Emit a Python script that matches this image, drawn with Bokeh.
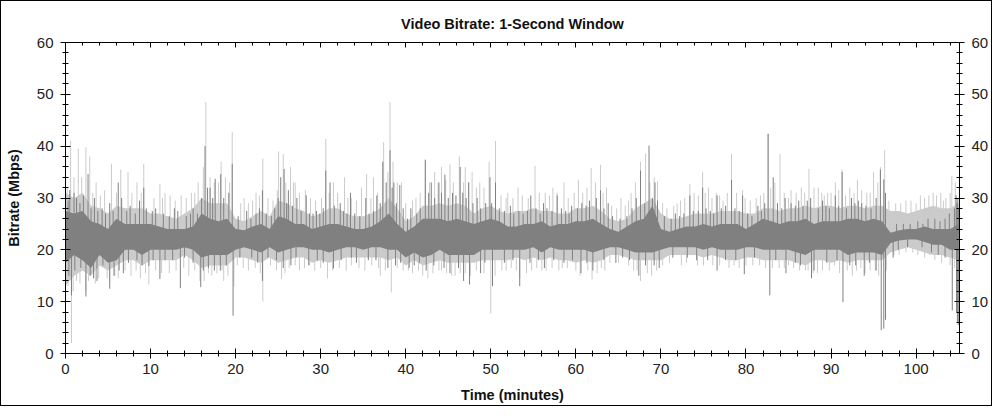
import numpy as np
from bokeh.plotting import figure
from bokeh.models import LinearAxis, SingleIntervalTicker, Range1d, CustomJSTickFormatter
from bokeh.embed import file_html
from bokeh.resources import INLINE

# ---- data (Mbps), one value per minute: dense core of each trace ----
minutes = list(range(0, 106))

dark_lo = [17.5, 19, 18, 16.5, 19, 17.5, 18, 20, 20, 19, 20, 20, 20, 20, 20.5, 20, 18.5, 19, 19, 19,
           20, 20.5, 20, 19.5, 20.5, 19.5, 20, 20.5, 20.5, 20, 20, 19.5, 20, 20.5, 20.5, 20, 20.5, 20.5, 20, 20,
           18.5, 19.5, 18.5, 19, 20, 19, 19, 19, 19, 20, 20, 20, 20, 20, 20, 20.5, 19.5, 20.5, 20, 20,
           20, 20, 19.5, 20, 20.5, 20.5, 20, 19.5, 19.5, 19.5, 20, 20.5, 20.5, 20.5, 20.5, 20, 20.5, 20, 20, 20,
           20.5, 20.5, 20, 20, 20, 20, 19.5, 19, 20, 20, 20, 20, 19, 19.5, 19.5, 19.5, 19, 21.3, 21.8, 22,
           22, 21.5, 21, 21, 20, 20]
dark_hi = [27.5, 27, 27.5, 25.5, 25, 24, 26, 25, 25, 25, 25, 24.5, 24, 24, 24, 24.5, 27, 26, 25.5, 26,
           24, 23.8, 24.5, 25, 24, 26.5, 26, 25, 25, 24, 24.5, 25, 25, 24.5, 24, 24, 24.5, 25.5, 27, 25,
           23.5, 24.5, 26, 26, 26, 25.5, 26, 25.5, 25, 25.5, 26, 25.5, 24.5, 24.5, 25, 25, 25.5, 24.5, 25, 25,
           25.5, 25.5, 26, 25, 24, 23.5, 24.5, 25.5, 26, 28.5, 24, 23.5, 24, 24.5, 24.5, 25, 24.5, 25, 25, 25,
           24, 25, 26, 25.5, 25, 25.5, 25.5, 26, 25, 25.5, 25.5, 25.5, 26, 26, 25.5, 26, 25.5, 23.3, 23.8, 24,
           24, 24.5, 24, 24, 24, 25]
light_lo = [13, 15, 16, 15, 17, 16, 17, 18, 18, 17, 18, 18, 18, 18, 19, 18, 16.5, 17, 17, 17,
            18.5, 18.5, 18, 17.5, 18.5, 17.5, 18, 18.5, 18.5, 17.5, 18, 17.5, 18, 18.5, 18.5, 18.5, 18.5, 18.5, 18, 18.5,
            17, 18, 17, 17.5, 18, 17.5, 17.5, 17.5, 17.5, 18, 18, 18, 18, 18.5, 18, 18.5, 18, 18.5, 18, 18,
            17.5, 18, 17.5, 18, 19, 19, 18.5, 18, 18, 18, 18, 19, 19, 19, 19, 18.5, 19, 18.5, 18, 18,
            18.5, 18.5, 18, 18, 18, 18, 17.5, 17, 18, 18, 17.5, 18, 17.5, 18, 18, 18, 18, 19.5, 20, 20.5,
            20, 19.5, 19, 19, 18.5, 18]
light_hi = [31, 30, 31, 28.5, 28, 27, 28.5, 28, 28, 28, 27, 27, 26.5, 26, 27, 28, 30, 29, 29, 29,
            26, 25.5, 26.5, 27.5, 26.5, 29.5, 29, 28, 27.5, 26.5, 27, 28, 28, 27, 26.5, 26.5, 27, 28, 30, 28,
            25.5, 26.5, 28.5, 28.5, 29, 28.5, 29, 28.5, 27, 28, 28.5, 27.5, 27, 27.5, 27.5, 28, 27.5, 27.5, 27, 27,
            28, 28, 28.5, 27.5, 26, 25.5, 26, 28, 29, 30, 27, 26, 26, 26.5, 27, 27, 27, 27.5, 27.5, 27.5,
            27, 27, 28, 28, 27.5, 28, 28, 28.5, 28, 28.5, 28.5, 28, 28.5, 28.5, 28, 28.5, 28.5, 27.5, 27.5, 27,
            27.5, 28, 28.5, 28, 28, 29]

# ---- individual one-second peaks / dips (minute, Mbps) ----
light_spike_t = [0.6, 1.5, 2.4, 2.85, 3.6, 5.4, 6.5, 7.35, 8.4, 9.2, 11.1, 11.7, 12.3, 13.6, 14.8, 16.2, 16.5,
                 17.5, 18.3, 19.6, 21.0, 22.4, 23.2, 25.05, 25.6, 26.45, 27.0, 28.2, 30.6, 31.5, 32.8, 33.6,
                 34.8, 35.4, 36.2, 37.4, 38.15, 38.5, 39.5, 41.2, 42.3, 43.4, 44.2, 45.2, 46.3, 47.0, 47.8,
                 48.7, 49.8, 50.55, 52.0, 53.2, 55.2, 56.4, 57.3, 58.6, 60.3, 61.8, 62.9, 63.6, 65.3, 66.5,
                 67.6, 68.2, 69.6, 71.5, 72.8, 73.4, 74.9, 75.6, 76.5, 77.3, 78.3, 79.6, 81.2, 82.6, 84.0,
                 85.3, 86.5, 87.4, 88.5, 89.6, 90.5, 91.3, 92.2, 93.1, 94.2, 95.0, 95.8, 96.3, 98.2, 100.5,
                 102.4, 103.5, 104.2,
                 0.7, 1.3, 2.4, 3.5, 4.9, 6.2, 8.8, 9.8, 12.2, 14.5, 15.8, 17.2, 18.6, 19.8, 21.5, 23.2,
                 25.4, 27.5, 29.3, 30.8, 33.0, 35.2, 37.0, 38.3, 40.3, 42.6, 44.2, 45.8, 47.0, 50.0, 51.3,
                 53.4, 54.8, 56.5, 58.4, 60.5, 61.9, 63.4, 66.8, 67.6, 69.5, 72.4, 76.1, 79.2, 81.6, 83.9,
                 85.6, 87.3, 88.4, 90.4, 92.5, 94.6, 97.4, 99.6, 101.6, 103.6]
light_spike_v = [41, 39.5, 39.8, 38, 33, 36.6, 35.5, 35, 33, 36.6, 32.7, 31, 30.5, 30.5, 31, 36, 48.5,
                 33, 37, 42.7, 30, 31, 37.6, 39, 38.5, 36, 33, 31.5, 41.4, 33, 34, 30,
                 32, 34.6, 34, 40.8, 48.5, 37, 33, 30, 37.5, 35, 36, 36.5, 38, 36, 35,
                 33, 37, 41, 31, 32, 36.2, 31, 32, 33, 33.5, 35.8, 36.4, 32, 30, 31,
                 37, 38.6, 33.2, 28.5, 30, 32.7, 35, 32, 31, 29.5, 38.5, 31.5, 30, 42.4, 38.5,
                 31.5, 32, 35.6, 32, 31, 33, 35.5, 32, 33.5, 31, 35, 36, 39.2, 29, 30.5,
                 30.5, 30, 34.3,
                 2, 14, 12, 13.5, 14.5, 14.5, 14.5, 13.3, 15.5, 15, 14, 15, 14, 13, 16, 10,
                 14.4, 16, 16, 14.5, 16, 16, 15, 11.8, 16, 14.5, 16, 15, 15.5, 7.7, 16,
                 14.5, 16, 16, 16.5, 15, 14.3, 16, 16, 14, 16, 17, 17, 16.5, 17, 16.5,
                 16.5, 16, 15.5, 17, 15, 16, 19, 19.5, 19, 18.5]

light_fuzz_t = [0.2, 1.0, 1.9, 3.2, 4.1, 4.6, 6.0, 7.8, 8.9, 10.4, 11.4, 12.9, 14.2, 15.2, 15.6, 17.0, 18.0,
                18.8, 19.3, 20.6, 21.5, 22.0, 22.8, 23.8, 24.4, 24.9, 25.9, 26.8, 27.5, 28.8, 29.4, 30.1,
                31.0, 32.0, 33.2, 34.2, 35.9, 36.7, 37.9, 39.0, 40.0, 40.8, 41.7, 42.8, 43.8, 44.7, 45.6,
                46.8, 47.4, 48.3, 49.2, 51.2, 51.8, 52.6, 53.7, 54.4, 55.7, 56.9, 57.8, 59.1, 59.8, 60.8,
                61.3, 62.3, 63.2, 64.2, 64.8, 65.8, 66.2, 67.0, 68.7, 69.2, 70.2, 70.7, 71.9, 72.3, 73.9,
                74.4, 75.2, 76.0, 76.9, 77.8, 78.9, 79.9, 80.5, 81.7, 82.1, 82.9, 83.4, 84.5, 85.0, 85.9,
                86.9, 88.0, 88.9, 89.2, 90.0, 90.9, 91.7, 92.7, 93.6, 94.6, 95.5, 96.8, 97.6, 98.8, 99.4,
                100.0, 101.0, 101.5, 102.0, 102.9, 103.2, 104.0, 104.6,
                0.3, 0.9, 1.7, 2.7, 3.9, 5.2, 5.8, 7.0, 7.7, 8.3, 9.4, 10.6, 11.3, 13.0, 13.9, 15.2, 16.3,
                16.8, 17.8, 18.4, 19.1, 20.2, 20.9, 22.3, 22.9, 24.1, 24.8, 25.8, 26.3, 27.0, 28.1, 28.7,
                30.0, 31.4, 32.2, 33.6, 34.5, 36.0, 36.8, 37.6, 39.0, 39.7, 40.8, 41.5, 42.0, 43.2, 43.9,
                44.8, 45.4, 46.4, 47.6, 48.3, 49.2, 50.5, 51.8, 52.4, 53.0, 54.2, 55.4, 56.0, 57.2, 58.0,
                59.0, 60.0, 61.4, 62.5, 63.0, 64.0, 65.0, 66.2, 67.2, 68.4, 68.9, 70.2, 71.0, 73.0, 74.3,
                75.0, 76.9, 78.0, 78.6, 80.0, 80.8, 82.3, 83.1, 84.5, 85.0, 86.3, 87.0, 87.9, 89.0, 89.8,
                91.0, 91.9, 93.0, 93.5, 94.0, 95.2, 95.6, 96.5, 98.0, 98.8, 100.2, 101.0, 102.2, 103.0,
                104.0, 104.5]
light_fuzz_v = [32, 34, 34, 31, 30.5, 31.5, 31, 31, 31, 30, 30, 29.5, 30, 31, 33, 34, 33,
                34, 33, 29, 29, 29.5, 30.5, 30, 29.5, 31.5, 33, 33, 31, 30, 29.5, 30,
                31, 31, 30, 29.5, 30, 31, 35, 33, 29, 29.5, 31, 33, 33, 33.5, 33,
                33, 33, 32, 32, 30.5, 30, 30, 30.5, 30, 31, 30.5, 31, 30, 31, 31,
                32, 33, 31, 28.5, 28, 28.5, 29.5, 33, 33, 34, 29, 28, 29, 29.5, 31,
                30.5, 31, 30, 30.5, 31, 31, 30, 29.5, 30.5, 31, 32, 33, 31, 30, 31,
                31, 32, 31, 30.5, 31, 31.5, 30.5, 31, 31.5, 31, 33, 29.5, 29, 29.5, 29.5,
                29, 30, 30.5, 31, 31, 29.5, 31, 33,
                13, 12, 13.5, 14, 14.5, 14, 15, 16, 15, 16, 15.5, 16, 15.5, 16, 16.5, 16, 14,
                15.5, 15.5, 16, 15, 17, 16.5, 16.5, 15.5, 17, 16, 15.5, 16.5, 17, 16.5, 17,
                16.5, 16, 16.5, 17, 16.5, 17, 16.5, 16, 16.5, 16, 15.5, 16, 15, 15.5, 16,
                15.5, 15, 15.5, 15, 16, 15.5, 15, 16, 16.5, 16, 15.5, 16.5, 16, 16.5, 16,
                16.5, 16, 16, 15.5, 16.5, 17.5, 17.5, 17, 16, 15.5, 15, 17, 17.5, 17.5, 17,
                17, 17, 16.5, 17, 17, 17, 16.5, 16.5, 16.5, 17, 16, 16, 15.5, 16, 16,
                15.5, 16, 16, 16.5, 15.5, 16, 15, 16, 19, 19.5, 19, 18.5, 18, 17.5,
                17, 16.5]

dark_spike_t = [0.3, 1.0, 2.65, 3.4, 5.2, 6.2, 7.6, 8.7, 9.2, 10.6, 12.8, 15.0, 16.4, 17.0, 17.6, 18.25,
                19.6, 21.3, 23.15, 24.6, 25.3, 25.7, 26.2, 27.2, 28.3, 29.5, 30.6, 31.1, 32.3, 33.5, 35.3,
                36.6, 37.3, 38.15, 38.6, 39.3, 40.6, 42.3, 43.0, 43.9, 44.6, 45.5, 46.4, 47.4, 48.4, 49.9,
                50.55, 52.3, 54.7, 56.2, 57.8, 59.5, 60.7, 62.9, 63.8, 67.6, 68.6, 69.3, 71.7, 73.4, 74.9,
                76.6, 78.3, 79.6, 81.4, 82.6, 83.2, 84.6, 86.2, 87.6, 89.0, 90.5, 91.3, 92.4, 93.6, 95.8,
                96.2, 104.7, 104.8, 104.9, 105.0,
                0.7, 2.4, 3.3, 5.2, 6.8, 9.8, 11.1, 13.5, 15.9, 17.5, 19.7, 23.15, 26.5, 28.6, 31.5, 34.2,
                37.9, 41.0, 44.5, 46.8, 47.5, 48.8, 50.2, 53.4, 56.3, 60.6, 62.0, 64.7, 67.4, 69.8, 76.6,
                79.8, 82.8, 84.7, 87.7, 88.0, 91.4, 92.9, 93.9, 95.9, 96.2, 96.4, 97.3, 104.25, 104.75,
                104.85, 104.95, 105.05]
dark_spike_v = [29.5, 31, 34.6, 30, 29, 33, 28.5, 29.5, 32, 28, 28, 28, 40, 32, 33.7, 34.6,
                36.6, 27.5, 31.5, 28, 34, 35.6, 31.5, 30, 30.5, 27.5, 35.3, 33, 29, 31, 30,
                30.5, 37, 39.2, 33, 32.5, 28, 37.3, 33, 33, 34.5, 31, 36, 33, 30, 34,
                33, 28.5, 30.5, 29, 30.5, 28.5, 29, 31.5, 29, 35.3, 40.1, 33, 27, 30.5, 32,
                30.5, 33.5, 30.5, 28.5, 42.4, 34, 30, 29.5, 30, 29.5, 30.5, 35, 30, 29, 35.5,
                33.6, 30.5, 29, 30, 28,
                11.2, 11, 14.5, 12.5, 15.5, 16.9, 14.4, 12.6, 12.8, 16, 7.3, 14, 17, 17, 16.4, 17.5,
                16.5, 17, 16.5, 14, 13.3, 15.5, 13, 13, 16.5, 15.5, 16, 17.5, 15, 16.5, 16,
                15.3, 11.2, 15.5, 14.5, 16, 9.9, 17, 15, 4.5, 4.8, 6.5, 18.5, 8.3, 8,
                6, 5.5, 10]

dark_fuzz_t = [0.1, 0.5, 1.3, 1.7, 2.1, 3.0, 3.8, 4.3, 4.7, 5.6, 6.6, 7.2, 8.2, 9.5, 10.2, 11.5, 12.2,
               13.2, 14.2, 14.7, 15.5, 16.0, 16.7, 17.3, 18.6, 19.2, 20.3, 21.8, 22.4, 22.8, 23.6, 24.2,
               25.0, 26.0, 26.7, 27.7, 28.7, 29.1, 29.9, 30.3, 31.6, 32.7, 33.1, 34.0, 34.6, 35.7, 36.2,
               37.0, 37.7, 38.4, 38.9, 39.7, 40.2, 41.3, 41.7, 42.7, 43.4, 44.2, 45.0, 45.9, 46.7, 47.1,
               47.9, 48.8, 49.4, 50.1, 51.0, 51.6, 52.7, 53.3, 53.8, 54.3, 55.3, 55.8, 56.6, 57.2, 58.3,
               58.8, 59.2, 60.2, 61.2, 61.6, 62.4, 63.3, 64.3, 65.2, 66.0, 66.6, 67.1, 68.1, 69.0, 69.6,
               70.4, 71.2, 72.2, 72.7, 73.8, 74.4, 75.3, 75.8, 76.2, 77.1, 77.6, 78.7, 79.2, 80.2, 80.7,
               81.8, 82.2, 83.7, 84.2, 85.3, 85.8, 86.7, 87.2, 88.5, 89.4, 89.8, 90.9, 91.8, 92.8, 93.2,
               94.1, 94.7, 95.3, 96.4, 97.7, 98.5, 99.3, 100.2, 100.8, 101.4, 102.2, 102.8, 103.4, 103.9,
               104.5,
               0.4, 1.1, 1.8, 2.9, 3.7, 4.4, 5.7, 6.3, 7.4, 8.4, 9.0, 10.3, 11.7, 12.6, 14.0, 15.0, 16.2,
               16.8, 18.2, 18.9, 20.5, 21.9, 22.6, 23.8, 24.8, 25.6, 27.1, 29.6, 30.3, 32.4, 33.6, 35.6,
               36.5, 38.8, 39.4, 40.4, 41.6, 42.4, 43.3, 45.2, 46.2, 49.3, 51.6, 52.6, 54.6, 55.6, 57.4,
               58.6, 59.6, 61.3, 63.3, 65.5, 66.3, 68.2, 69.2, 71.4, 73.1, 74.2, 75.5, 77.6, 78.8, 81.0,
               83.5, 85.8, 86.4, 89.5, 90.7, 92.2, 94.5, 95.3, 97.9, 99.0, 100.7, 101.8, 102.6, 103.4]
dark_fuzz_v = [27, 31.5, 30, 29, 30.5, 28, 27.5, 28, 27, 27.5, 30, 27.5, 27, 28, 27.5, 27, 26.5,
               27.5, 26.5, 27, 27, 30, 32, 30, 30, 31, 26.5, 26, 27, 28, 27, 26.5,
               30, 29, 28.5, 27.5, 27, 27, 27, 28, 28.5, 27.5, 27, 27, 26.5, 27, 27.5,
               29, 33, 32, 29, 28, 26, 27, 28, 31, 30, 31, 30, 30.5, 31, 30,
               29, 28, 29, 29, 28, 27.5, 27, 27.5, 27, 27.5, 28, 27, 28, 27.5, 28,
               27.5, 27, 28, 28.5, 29.5, 30, 28, 26.5, 26, 26.5, 28, 30, 29, 30, 29.5,
               26.5, 26, 26.5, 27, 27.5, 27.5, 28, 27.5, 27, 28, 28.5, 28, 27.5, 27, 26.5,
               27.5, 29, 29, 28, 29, 28.5, 28.5, 29.5, 28, 28.5, 28, 28.5, 28, 29, 29.5,
               28.5, 28, 30, 31, 25, 25, 25, 25.5, 25, 26, 26, 25.5, 26, 27,
               28,
               15, 16, 16.5, 15, 14, 17, 15, 16, 17.5, 18, 17, 18, 18, 18, 18.5, 17.5, 16,
               16.5, 16, 17, 18.5, 18.5, 17.5, 18.5, 18, 16.5, 18.5, 18, 17.5, 18, 18.5, 18,
               18, 17, 17.5, 16.5, 17.5, 16, 17, 15.5, 16.5, 17.5, 17.5, 18, 17.5, 18, 18,
               17.5, 18, 17.5, 18, 18.5, 18, 17, 17, 18.5, 18.5, 18, 18, 18, 18, 18.5,
               18, 17.5, 17, 17.5, 18, 17, 17.5, 16, 20, 20.5, 20.5, 19.5, 19, 18.5]

LIGHT = "#cbcbcb"
DARK = "#808080"
FONT = "Liberation Sans"

p = figure(frame_width=894, frame_height=311,
           x_range=Range1d(0, 105.1), y_range=Range1d(0, 60),
           output_backend="svg", toolbar_location=None,
           min_border_left=64, min_border_right=30, min_border_top=41, min_border_bottom=52,
           title="Video Bitrate: 1-Second Window")
p.background_fill_color = "white"
p.border_fill_color = "white"
p.outline_line_color = "black"
p.grid.visible = False

p.title.align = "center"
p.title.text_font = FONT
p.title.text_font_size = "14.5px"
p.title.text_font_style = "bold"
p.title.text_color = "#111111"
p.title.offset = 0
p.title.standoff = 21

m = np.array(minutes, dtype=float)

def spikes(ts, vs, lo, hi, color):
    ts = np.array(ts, dtype=float)
    base = np.interp(ts, m, (np.array(lo) + np.array(hi)) / 2.0)
    p.segment(x0=ts, y0=base, x1=ts, y1=vs, line_color=color, line_width=1)

p.varea(x=m, y1=light_lo, y2=light_hi, fill_color=LIGHT)
spikes(light_fuzz_t, light_fuzz_v, light_lo, light_hi, LIGHT)
spikes(light_spike_t, light_spike_v, light_lo, light_hi, LIGHT)
p.varea(x=m, y1=dark_lo, y2=dark_hi, fill_color=DARK)
spikes(dark_fuzz_t, dark_fuzz_v, dark_lo, dark_hi, DARK)
spikes(dark_spike_t, dark_spike_v, dark_lo, dark_hi, DARK)

def style_axis(ax):
    ax.ticker = SingleIntervalTicker(interval=10, num_minor_ticks=5)
    ax.axis_line_color = "black"
    ax.major_tick_line_color = "black"
    ax.minor_tick_line_color = "black"
    ax.major_tick_in = 5
    ax.major_tick_out = 5
    ax.minor_tick_in = 3
    ax.minor_tick_out = 3
    ax.major_label_text_font = FONT
    ax.major_label_text_font_size = "15px"
    ax.major_label_text_color = "#222222"

xb = p.xaxis[0]
style_axis(xb)
xb.axis_label = "Time (minutes)"
xb.major_label_standoff = 5
xb.axis_label_standoff = 10

yl = p.yaxis[0]
style_axis(yl)
yl.axis_label = "Bitrate (Mbps)"
yl.major_label_standoff = 7
yl.axis_label_standoff = 12

for ax in (xb, yl):
    ax.axis_label_text_font = FONT
    ax.axis_label_text_font_size = "14.5px"
    ax.axis_label_text_font_style = "bold"
    ax.axis_label_text_color = "#111111"

yr = LinearAxis()
style_axis(yr)
yr.major_label_standoff = 7
p.add_layout(yr, "right")

xt = LinearAxis()
style_axis(xt)
xt.major_tick_out = 0
xt.minor_tick_out = 0
xt.major_label_standoff = 0
xt.formatter = CustomJSTickFormatter(code="return ''")
p.add_layout(xt, "above")

p.styles = {"border": "1px solid black"}

open("out.html", "w").write(file_html(p, INLINE))
